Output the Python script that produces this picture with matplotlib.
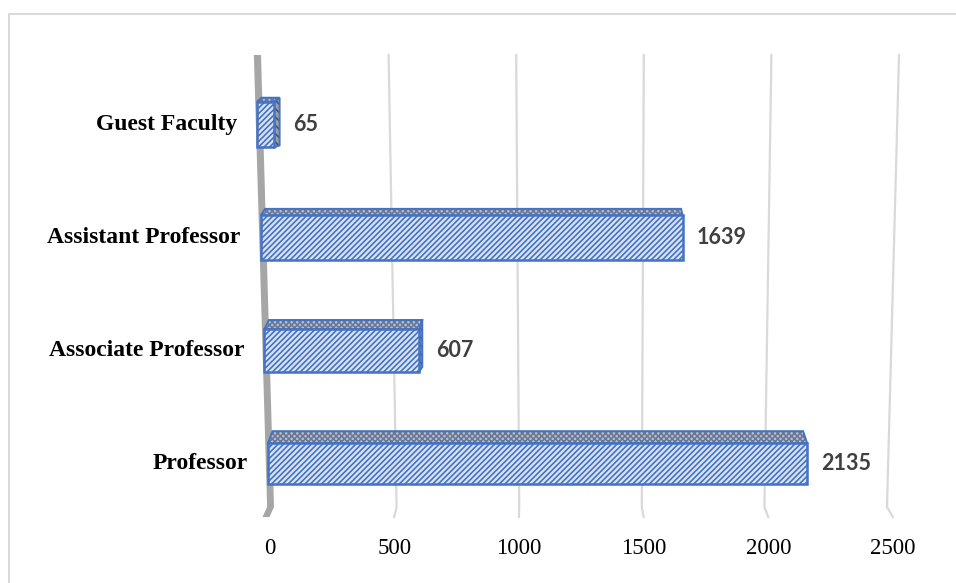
import matplotlib
matplotlib.use('Agg')
import matplotlib.pyplot as plt
from matplotlib.patches import Polygon
from matplotlib.lines import Line2D

# faculty strength by designation
categories = ['Professor', 'Associate Professor', 'Assistant Professor', 'Guest Faculty']
counts = [2135, 607, 1639, 65]
ticks = [0, 500, 1000, 1500, 2000, 2500]

BLUE = '#4472c4'
FACE = '#dae3f3'
GRID = '#d9d9d9'
WALL = '#a6a6a6'
PX = 0.2452          # pixels per value unit on the floor
ROW = 113            # pixels per category step

plt.rcParams['hatch.linewidth'] = 1.2

fig = plt.figure(figsize=(9.56, 5.83), dpi=100)
ax = fig.add_axes([0, 0, 1, 1])
# x is in value units (floor scale), y in category units
ax.set_xlim(-274 / PX, (956 - 274) / PX)
ax.set_ylim((463.5 - 583) / ROW, 463.5 / ROW)
ax.axis('off')

C_FLOOR = -0.385
C_TOP = 3.615
DROP = 10 / ROW


def back(v, c):
    # back plane leans in and shrinks slightly towards the floor
    t = (c - C_FLOOR) / (C_TOP - C_FLOOR)
    return -53 * t + v * (1 + 0.0408 * t)


def floor_edge(v):
    return back(v, C_FLOOR) + (-4.5 + 0.0042 * v) / PX


def front(v, c):
    return -24.5 - 14.93 * c + v * (1.0299 + 0.01017 * c)


# gridlines with the short floor segment
for v in ticks[1:]:
    ax.add_line(Line2D([back(v, C_TOP), back(v, C_FLOOR), floor_edge(v)],
                       [C_TOP, C_FLOOR, C_FLOOR - DROP],
                       color=GRID, lw=1.6, zorder=1))

# side wall at zero
w = -28
ax.add_patch(Polygon([(back(w, C_TOP), C_TOP), (back(0, C_TOP), C_TOP),
                      (back(0, C_FLOOR), C_FLOOR), (floor_edge(0), C_FLOOR - DROP),
                      (floor_edge(w), C_FLOOR - DROP), (back(w, C_FLOOR), C_FLOOR)],
                     closed=True, facecolor=WALL, edgecolor='none', zorder=2))

for i, (name, val) in enumerate(zip(categories, counts)):
    c = i
    h = 0.36 + 0.015 * c      # rows nearer the top look a little taller
    ct, cb = c + h / 2, c - h / 2
    dy = (12 - 2.7 * c) / ROW
    x0 = front(0, c)
    x1 = front(val, c)
    dxl = 4.5 / PX
    dxr = (6 - 0.0047 * val) / PX

    top = [(x0, ct), (x1, ct), (x1 + dxr, ct + dy), (x0 + dxl, ct + dy)]
    ax.add_patch(Polygon(top, closed=True, facecolor='#b9c3d8', edgecolor='#6c7892',
                         hatch='xxxxxx', lw=0, zorder=3))
    ax.add_patch(Polygon(top, closed=True, facecolor='none', edgecolor=BLUE,
                         lw=1.4, joinstyle='miter', zorder=4))

    if dxr > 0:
        side = [(x1, ct), (x1 + dxr, ct + dy), (x1 + dxr, cb + dy * 0.5), (x1, cb)]
        ax.add_patch(Polygon(side, closed=True, facecolor='#9a9ea8', edgecolor='#4d525c',
                             hatch='\\\\\\\\', lw=0, zorder=3))
        ax.add_patch(Polygon(side, closed=True, facecolor='none', edgecolor=BLUE,
                             lw=1.4, joinstyle='miter', zorder=4))

    frontface = [(x0, cb), (x1, cb), (x1, ct), (x0, ct)]
    ax.add_patch(Polygon(frontface, closed=True, facecolor=FACE, edgecolor=BLUE,
                         hatch='//////', lw=0, zorder=5))
    ax.add_patch(Polygon(frontface, closed=True, facecolor='none', edgecolor=BLUE,
                         lw=1.8, joinstyle='miter', zorder=6))

    ax.text(x1 + max(dxr, 0) + 55, c, str(val), ha='left', va='center',
            fontsize=15.5, fontweight='bold', family=['Lato', 'DejaVu Sans'],
            color='#404040', zorder=7)
    ax.text(x0 - 82, c, name, ha='right', va='center', fontsize=17,
            fontweight='bold', family=['Liberation Serif', 'DejaVu Serif'],
            color='black', zorder=7)

for v in ticks:
    ax.text(floor_edge(v), (463.5 - 549) / ROW, str(v), ha='center', va='center',
            fontsize=16.5, family=['Liberation Serif', 'DejaVu Serif'], color='black')

# chart area border
fx, fy = 9 / 956, 1 - 14 / 583
fig.add_artist(Line2D([fx, fx, 1.0], [0.0, fy, fy], transform=fig.transFigure,
                      color=GRID, lw=1.5))

fig.savefig('out.png', dpi=100)
